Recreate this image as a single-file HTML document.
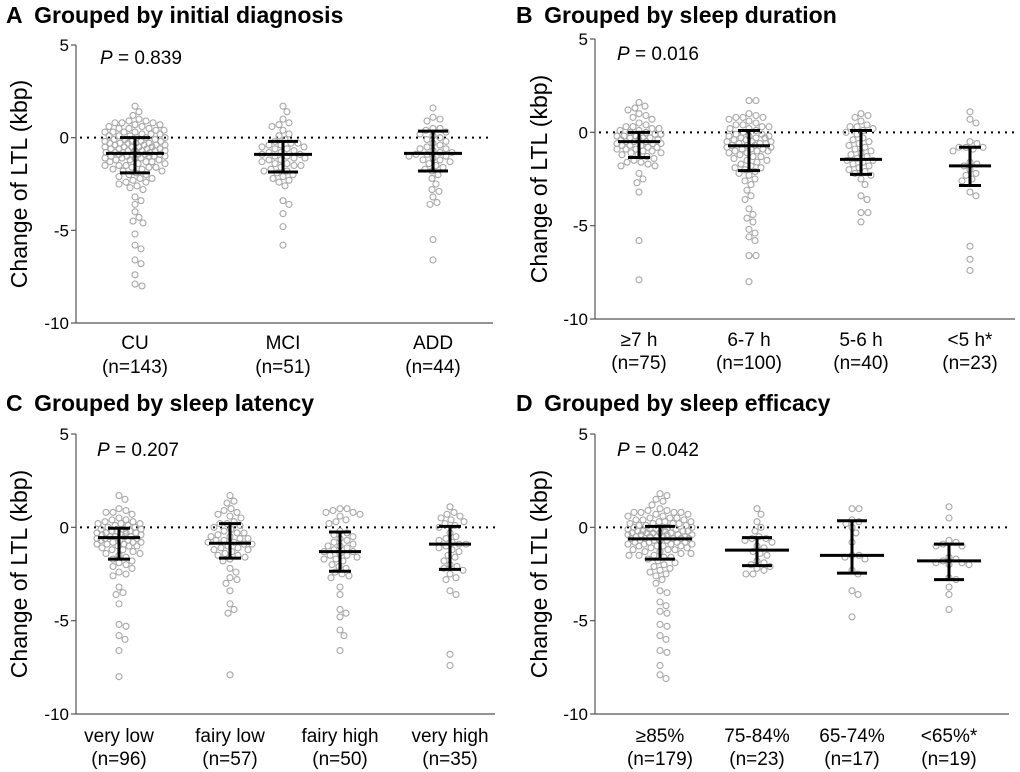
<!DOCTYPE html>
<html><head><meta charset="utf-8"><style>
html,body{margin:0;padding:0;background:#fff}
svg{display:block;font-family:"Liberation Sans",Arial,sans-serif}
</style></head><body>
<svg id="fig" width="1020" height="772" viewBox="0 0 1020 772"></svg>
<script>
// ---------- data ----------
const panelTitles = ["Grouped by initial diagnosis","Grouped by sleep duration","Grouped by sleep latency","Grouped by sleep efficacy"];
const panelLetters = ["A","B","C","D"];
const pValues = ["0.839","0.016","0.207","0.042"];
const yTicks = [5,0,-5,-10];
const catsA = ["CU","MCI","ADD"];
const nA = ["(n=143)","(n=51)","(n=44)"];
const catsB = ["≥7 h","6-7 h","5-6 h","<5 h*"];
const nB = ["(n=75)","(n=100)","(n=40)","(n=23)"];
const catsC = ["very low","fairy low","fairy high","very high"];
const nC = ["(n=96)","(n=57)","(n=50)","(n=35)"];
const catsD = ["≥85%","75-84%","65-74%","<65%*"];
const nD = ["(n=179)","(n=23)","(n=17)","(n=19)"];

const ptsA = [
[1.7,1.4,1.2,1.0,0.9,0.9,0.8,0.8,0.7,0.7,0.6,0.6,0.5,0.5,0.4,0.4,0.3,0.3,0.3,0.2,0.2,0.2,0.1,0.1,0.0,0.0,-0.1,-0.1,-0.2,-0.2,-0.2,-0.3,-0.3,-0.3,-0.4,-0.4,-0.4,-0.5,-0.5,-0.5,-0.6,-0.6,-0.6,-0.7,-0.7,-0.7,-0.8,-0.8,-0.8,-0.9,-0.9,-0.9,-1.0,-1.0,-1.0,-1.1,-1.1,-1.2,-1.2,-1.3,-1.3,-1.4,-1.4,-1.5,-1.5,-1.6,-1.6,-1.7,-1.7,-1.8,-1.9,-2.0,-2.1,-2.2,-2.3,-2.4,-2.5,-2.6,-2.7,-2.8,-3.2,-3.4,-3.6,-4.0,-4.3,-4.5,-4.6,-5.2,-5.8,-6.0,-6.6,-6.8,-7.4,-7.9,-8.0,0.3,0.1,-0.1,-0.3,-0.5,-0.7,-0.9,-1.1,-1.3,-1.5,-0.4,-0.6,-0.8,-1.0,-1.2,-0.2,0.0,0.5,0.8,-1.6,-1.8,-2.0,-2.2,-2.4,-0.5,-0.7,-0.9,-1.0,-1.1,-0.3],
[1.7,1.4,1.0,0.8,0.7,0.6,0.4,0.2,0.1,-0.1,-0.2,-0.3,-0.3,-0.4,-0.5,-0.5,-0.6,-0.7,-0.8,-0.8,-0.9,-1.0,-1.0,-1.1,-1.2,-1.3,-1.4,-1.5,-1.6,-1.7,-1.8,-1.8,-1.9,-2.0,-2.1,-2.2,-2.3,-2.4,-2.6,-3.4,-3.6,-4.1,-4.8,-5.8,-0.4,-0.9,-1.2,-1.5,-0.6,-1.1,-1.4],
[1.6,1.1,1.0,0.9,0.5,0.5,0.4,0.3,0.2,0.1,-0.1,-0.2,-0.4,-0.5,-0.6,-0.7,-0.8,-0.8,-0.9,-1.0,-1.1,-1.2,-1.2,-1.3,-1.4,-1.5,-1.6,-1.7,-1.8,-2.0,-2.2,-2.5,-2.8,-2.9,-3.2,-3.5,-3.6,-5.5,-6.6,-0.3,-0.9,-1.0,0.0,-0.6]
];
const ptsB = [
[1.6,1.4,1.3,1.2,1.0,0.9,0.8,0.7,0.5,0.4,0.3,0.2,0.2,0.1,0.0,0.0,-0.1,-0.1,-0.2,-0.2,-0.3,-0.3,-0.4,-0.4,-0.5,-0.5,-0.6,-0.6,-0.7,-0.7,-0.8,-0.8,-0.9,-0.9,-1.0,-1.0,-1.1,-1.2,-1.3,-1.4,-1.5,-1.6,-1.7,-1.8,-1.8,-2.2,-2.5,-2.7,-3.2,-5.8,-7.9,-0.3,-0.5,-0.7,-0.2,-0.4,-0.6,-1.1,0.1,0.3,-0.9,-1.2,-1.6],
[1.7,1.7,1.0,0.9,0.8,0.8,0.7,0.6,0.5,0.4,0.3,0.3,0.2,0.1,0.0,-0.1,-0.2,-0.2,-0.3,-0.3,-0.4,-0.4,-0.5,-0.5,-0.6,-0.6,-0.7,-0.7,-0.8,-0.8,-0.9,-0.9,-1.0,-1.0,-1.1,-1.2,-1.3,-1.4,-1.5,-1.6,-1.7,-1.8,-1.9,-2.0,-2.1,-2.3,-2.5,-2.6,-2.8,-3.1,-3.4,-3.6,-4.1,-4.4,-4.6,-4.8,-5.2,-5.4,-5.6,-5.8,-6.6,-6.6,-8.0,-0.3,-0.5,-0.7,-0.9,-1.1,-1.3,0.4,0.8,-0.2,-0.6,-1.0,-1.5,-1.9,-2.2,-0.1,0.2],
[1.0,0.9,0.8,0.6,0.4,0.3,0.3,0.2,0.0,-0.1,-0.3,-0.5,-0.6,-0.8,-0.9,-1.0,-1.2,-1.3,-1.4,-1.5,-1.6,-1.7,-1.8,-2.0,-2.1,-2.3,-2.5,-2.8,-3.4,-3.6,-4.3,-4.3,-4.8,-0.7,-1.1,-1.5,-1.9,0.1,-2.2,-0.4],
[1.1,0.7,0.5,-0.5,-0.6,-0.8,-0.8,-0.9,-1.6,-1.8,-2.0,-2.2,-2.3,-2.6,-3.2,-3.4,-6.1,-6.8,-7.4,-1.7,-1.0,-2.5,-0.8]
];
const ptsC = [
[1.7,1.5,1.0,0.9,0.8,0.8,0.7,0.5,0.4,0.3,0.3,0.2,0.2,0.1,0.1,0.0,0.0,-0.1,-0.1,-0.2,-0.2,-0.2,-0.3,-0.3,-0.3,-0.4,-0.4,-0.5,-0.5,-0.5,-0.6,-0.6,-0.7,-0.7,-0.8,-0.8,-0.9,-0.9,-1.0,-1.0,-1.1,-1.2,-1.3,-1.4,-1.5,-1.6,-1.7,-1.8,-1.9,-2.0,-2.2,-2.4,-2.6,-3.2,-3.5,-3.6,-4.1,-5.2,-5.3,-5.8,-6.0,-6.6,-8.0,-0.3,-0.4,-0.6,-0.7,-0.8,-1.0,-1.2,0.2,0.4,-0.1,-0.5,-0.9,-1.4,-2.1,-2.5],
[1.7,1.4,1.3,1.0,0.9,0.8,0.7,0.5,0.3,0.2,0.2,0.1,0.0,-0.1,-0.2,-0.3,-0.4,-0.5,-0.6,-0.6,-0.7,-0.8,-0.8,-0.9,-1.0,-1.1,-1.2,-1.3,-1.4,-1.5,-1.6,-1.7,-1.8,-2.2,-2.4,-2.7,-2.8,-3.0,-3.4,-4.1,-4.4,-4.6,-7.9,-0.5,-0.9,-1.1,-1.5,0.6,-0.3,-1.2,-0.7],
[1.0,1.0,0.9,0.8,0.7,0.6,0.4,0.3,0.2,-0.2,-0.3,-0.5,-0.7,-0.8,-0.9,-1.0,-1.1,-1.2,-1.3,-1.4,-1.5,-1.6,-1.7,-1.8,-2.0,-2.2,-2.4,-2.6,-2.7,-3.2,-3.6,-4.4,-4.6,-4.8,-5.5,-5.8,-6.6,-0.6,-1.0,-1.3,-1.5,-2.1,0.8,-0.4,-1.7,-2.5],
[1.1,0.8,0.7,0.6,0.5,0.3,0.2,0.1,0.0,-0.3,-0.5,-0.7,-0.9,-1.0,-1.1,-1.2,-1.5,-1.8,-2.0,-2.1,-2.2,-2.5,-2.7,-2.8,-3.4,-3.6,-6.8,-7.4,-0.8,-1.3,0.4,-1.6,-0.9,-0.6,-2.3]
];
const ptsD = [
[1.8,1.7,1.5,1.4,1.2,1.0,0.9,0.9,0.8,0.8,0.8,0.7,0.7,0.6,0.6,0.5,0.5,0.4,0.4,0.4,0.3,0.3,0.3,0.2,0.2,0.2,0.1,0.1,0.1,0.0,0.0,0.0,-0.1,-0.1,-0.1,-0.2,-0.2,-0.2,-0.2,-0.3,-0.3,-0.3,-0.3,-0.4,-0.4,-0.4,-0.4,-0.5,-0.5,-0.5,-0.5,-0.6,-0.6,-0.6,-0.6,-0.7,-0.7,-0.7,-0.8,-0.8,-0.8,-0.9,-0.9,-0.9,-1.0,-1.0,-1.0,-1.1,-1.1,-1.2,-1.2,-1.3,-1.3,-1.4,-1.4,-1.5,-1.5,-1.6,-1.6,-1.7,-1.8,-1.9,-2.0,-2.1,-2.2,-2.3,-2.4,-2.5,-2.6,-2.8,-3.0,-3.4,-3.5,-4.0,-4.2,-4.5,-4.6,-5.2,-5.3,-5.8,-6.0,-6.6,-6.7,-7.4,-7.9,-8.1,-0.3,-0.5,-0.7,0.2,0.0,-0.1,-0.4,-0.6,-0.8,-1.0,0.5,0.8,-1.2,-1.5,-0.2,-0.9],
[1.0,0.7,0.3,0.0,-0.2,-0.5,-0.6,-0.6,-0.7,-0.8,-1.0,-1.1,-1.3,-1.4,-1.5,-1.8,-1.9,-2.0,-2.1,-2.2,-2.3,-2.5,-2.5],
[1.0,1.0,0.4,0.3,0.2,0.0,-0.3,-0.8,-1.5,-1.5,-1.6,-1.7,-2.3,-2.5,-3.4,-3.6,-4.8],
[1.1,0.5,-0.9,-0.8,-0.7,-1.0,-1.0,-1.7,-1.8,-1.9,-1.9,-2.0,-2.0,-2.7,-2.8,-3.2,-3.6,-4.4,-1.6]
];
const meanA=[-0.85,-0.9,-0.85], hiA=[0,-0.2,0.35], loA=[-1.9,-1.85,-1.8];
const meanB=[-0.5,-0.72,-1.45,-1.8], hiB=[0,0.1,0.1,-0.8], loB=[-1.35,-2.05,-2.25,-2.85];
const meanC=[-0.55,-0.85,-1.3,-0.9], hiC=[-0.05,0.2,-0.25,0.05], loC=[-1.7,-1.65,-2.35,-2.25];
const meanD=[-0.62,-1.22,-1.5,-1.8], hiD=[0.05,-0.55,0.35,-0.9], loD=[-1.7,-2.05,-2.45,-2.8];

// ---------- layout ----------
const NS="http://www.w3.org/2000/svg";
const svg=document.getElementById('fig');
function mk(tag,attrs,parent){const e=document.createElementNS(NS,tag);for(const k in attrs)e.setAttribute(k,attrs[k]);(parent||svg).appendChild(e);return e;}

const panels=[
 {ox:0,top:45,bot:323,axX:76,right:493,gx:[135,283,433],mw:29,cw:15,sw:[30,22,27],titleY:23,pX:100,pY:64,l1:349,l2:373,yt:21,cats:catsA,ns:nA,pts:ptsA,mean:meanA,hi:hiA,lo:loA},
 {ox:510,top:39,bot:319,axX:595,right:1015,gx:[639,749,861,970],mw:21,cw:11,sw:[22,22,22,20],titleY:23,pX:617,pY:60,l1:346,l2:369,yt:31,cats:catsB,ns:nB,pts:ptsB,mean:meanB,hi:hiB,lo:loB},
 {ox:0,top:434,bot:714,axX:76,right:495,gx:[119,230,340,450],mw:21,cw:11,sw:[22,22,22,22],titleY:411,pX:97,pY:456,l1:742,l2:765,yt:21,cats:catsC,ns:nC,pts:ptsC,mean:meanC,hi:hiC,lo:loC},
 {ox:510,top:434,bot:714,axX:595,right:1009,gx:[660,757,852,949],mw:32,cw:15,sw:[32,24,24,24],titleY:411,pX:617,pY:456,l1:742,l2:765,yt:31,cats:catsD,ns:nD,pts:ptsD,mean:meanD,hi:hiD,lo:loD}
];

panels.forEach((P,pi)=>{
  const g=mk('g',{});
  
  
  const y=v=>P.top+(5-v)*(P.bot-P.top)/15;

  const t=mk('text',{x:P.ox+6,y:P.titleY,'font-size':23,'font-weight':'bold',fill:'#000'},g);
  
  
  t.textContent=panelLetters[pi]+'\u2002'+panelTitles[pi];

  const pt=mk('text',{x:P.pX,y:P.pY,'font-size':19,fill:'#000'},g);
  
  
  pt.innerHTML='<tspan font-style="italic">P</tspan> = '+pValues[pi];

  const ya=mk('line',{x1:P.axX,y1:P.top,x2:P.axX,y2:P.bot,stroke:'#555','stroke-width':1.2},g);
  
  
  const xa=mk('line',{x1:P.axX,y1:P.bot,x2:P.right,y2:P.bot,stroke:'#555','stroke-width':1.2},g);
  
  
  yTicks.forEach(v=>{
    const tk=mk('line',{x1:P.axX-5,y1:y(v),x2:P.axX,y2:y(v),stroke:'#555','stroke-width':1.2},g);
    
    
    const tl=mk('text',{x:P.axX-7,y:y(v)+6,'font-size':17,'text-anchor':'end',fill:'#000'},g);
    
    
    tl.textContent=v;
  });
  const cy=(P.top+P.bot)/2;
  const yx=P.ox+P.yt+6;
  const yl=mk('text',{x:yx,y:cy,'font-size':23,'text-anchor':'middle',fill:'#000',transform:`rotate(-90 ${yx} ${cy})`},g);
  
  
  yl.textContent='Change of LTL (kbp)';

  const zl=mk('line',{x1:P.axX+4,y1:y(0),x2:P.right,y2:y(0),stroke:'#000','stroke-width':2,'stroke-dasharray':'2,5'},g);
  
  

  P.cats.forEach((c,ci)=>{
    const cx=P.gx[ci];
    const l1=mk('text',{x:cx,y:P.l1,'font-size':19,'text-anchor':'middle',fill:'#000'},g);
    
    
    l1.textContent=c;
    const l2=mk('text',{x:cx,y:P.l2,'font-size':19,'text-anchor':'middle',fill:'#000'},g);
    
    
    l2.textContent=P.ns[ci];

    const vals=P.pts[ci].slice().sort((a,b)=>b-a);
    const placed=[]; const D=6.4; const maxW=P.sw[ci];
    vals.forEach(v=>{
      const py=y(v); let best=0,bestD=-1;
      for(let k=0;k<=2*maxW;k++){
        const dx=(k%2?1:-1)*Math.ceil(k/2);
        let md=1e9;
        placed.forEach(p=>{const d=Math.hypot(p[0]-dx,p[1]-py);if(d<md)md=d;});
        if(md>=D){best=dx;break;}
        if(md>bestD){bestD=md;best=dx;}
      }
      placed.push([best,py]);
      const c0=mk('circle',{cx:cx+best,cy:py,r:3,fill:'none',stroke:'#a6a6a6','stroke-width':1.1},g);
      
      
    });
  });
  P.cats.forEach((c,ci)=>{
    const cx=P.gx[ci];
    const st={stroke:'#000','stroke-width':3};
    const m=mk('line',Object.assign({x1:cx-P.mw,y1:y(P.mean[ci]),x2:cx+P.mw,y2:y(P.mean[ci])},st),g);
    
    
    const v=mk('line',Object.assign({x1:cx,y1:y(P.hi[ci]),x2:cx,y2:y(P.lo[ci])},st),g);
    
    
    const h=mk('line',Object.assign({x1:cx-P.cw,y1:y(P.hi[ci]),x2:cx+P.cw,y2:y(P.hi[ci])},st),g);
    
    
    const l=mk('line',Object.assign({x1:cx-P.cw,y1:y(P.lo[ci]),x2:cx+P.cw,y2:y(P.lo[ci])},st),g);
    
    
  });
});
</script>
</body></html>
